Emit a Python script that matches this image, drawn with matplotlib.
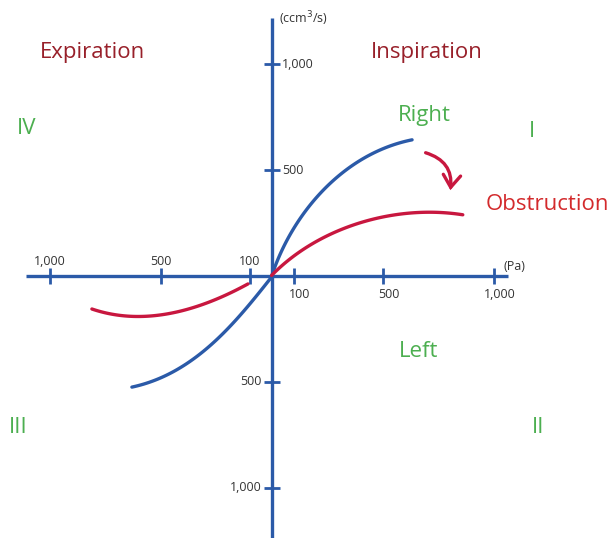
import numpy as np
import matplotlib.pyplot as plt
import matplotlib.patches as patches

plt.rcParams['font.family'] = ['Open Sans', 'DejaVu Sans']

# pressure (Pa) / flow (ccm3/s)
right_x = [0, 36, 95, 248, 396, 545, 631]
right_y = [0, 108, 217, 420, 547, 618, 642]
left_x = [0, -40, -113, -266, -414, -631]
left_y = [0, -60, -146, -316, -434, -524]
obst_up_x = [0, 36, 95, 248, 396, 545, 698, 860]
obst_up_y = [0, 42, 99, 184, 250, 288, 302, 288]
obst_lo_x = [-108, -266, -414, -595, -811]
obst_lo_y = [-38, -113, -170, -189, -156]

x_ticks = [100, 500, 1000]
y_ticks = [500, 1000]
tick_text = ["100", "500", "1,000"]

blue = "#2b5aa8"
red = "#c8173f"
dark_red = "#98202a"
green = "#4caf50"
grey = "#333333"


def smooth(xs, ys, n=120):
    # cubic fit over chord length so the drawn line stays smooth
    xs = np.asarray(xs, float)
    ys = np.asarray(ys, float)
    d = np.r_[0, np.cumsum(np.hypot(np.diff(xs), np.diff(ys)))]
    t = d / d[-1]
    tt = np.linspace(0, 1, n)
    cx = np.polyfit(t, xs, 3)
    cy = np.polyfit(t, ys, 3)
    return np.polyval(cx, tt), np.polyval(cy, tt)


fig = plt.figure(figsize=(6.15, 5.38), dpi=100)
ax = fig.add_axes([0, 0, 1, 1])
ax.set_xlim(-1225, 1545)
ax.set_ylim(-1236, 1302)
ax.axis("off")

# axes
ax.plot([-1110, 1064], [0, 0], color=blue, lw=2.4, solid_capstyle="butt")
ax.plot([0, 0], [-1240, 1217], color=blue, lw=2.4, solid_capstyle="butt")
for v in x_ticks:
    ax.plot([v, -v], [0, 0], ls="none", marker="|", ms=11, mew=2, color=blue)
for v in y_ticks:
    ax.plot([0, 0], [v, -v], ls="none", marker="_", ms=11, mew=2, color=blue)

# tick labels
for v, s in zip(x_ticks, tick_text):
    ax.text(v + 25, -55, s, ha="center", va="top", fontsize=9, color=grey)
    ax.text(-v, 40, s, ha="center", va="bottom", fontsize=9, color=grey)
for v, s in zip(y_ticks, tick_text[1:]):
    ax.text(45, v, s, ha="left", va="center", fontsize=9, color=grey)
    ax.text(-45, -v, s, ha="right", va="center", fontsize=9, color=grey)
ax.text(30, 1215, "(ccm$^3$/s)", ha="left", va="center", fontsize=9, color=grey)
ax.text(1045, 45, "(Pa)", ha="left", va="center", fontsize=9, color=grey)

# curves
for xs, ys in [(right_x, right_y), (left_x, left_y)]:
    sx, sy = smooth(xs, ys)
    ax.plot(sx, sy, color=blue, lw=2.4, solid_capstyle="round")
for xs, ys in [(obst_up_x, obst_up_y), (obst_lo_x, obst_lo_y)]:
    sx, sy = smooth(xs, ys)
    ax.plot(sx, sy, color=red, lw=2.4, solid_capstyle="round")

arrow = patches.FancyArrowPatch((680, 585), (802, 392),
                                connectionstyle="arc3,rad=-0.45",
                                arrowstyle="->,head_length=0.35,head_width=0.25",
                                color=red, lw=2.4, mutation_scale=25,
                                capstyle="round", joinstyle="miter")
ax.add_patch(arrow)

# labels
ax.text(-808, 1052, "Expiration", ha="center", va="center", fontsize=16, color=dark_red)
ax.text(698, 1052, "Inspiration", ha="center", va="center", fontsize=16, color=dark_red)
ax.text(685, 758, "Right", ha="center", va="center", fontsize=16, color=green)
ax.text(1240, 335, "Obstruction", ha="center", va="center", fontsize=16, color="#d32a2c")
ax.text(662, -354, "Left", ha="center", va="center", fontsize=16, color=green)
ax.text(-1104, 698, "IV", ha="center", va="center", fontsize=16, color=green)
ax.text(1171, 684, "I", ha="center", va="center", fontsize=16, color=green)
ax.text(-1144, -717, "III", ha="center", va="center", fontsize=16, color=green)
ax.text(1198, -717, "II", ha="center", va="center", fontsize=16, color=green)

fig.savefig("out.png", dpi=100)
